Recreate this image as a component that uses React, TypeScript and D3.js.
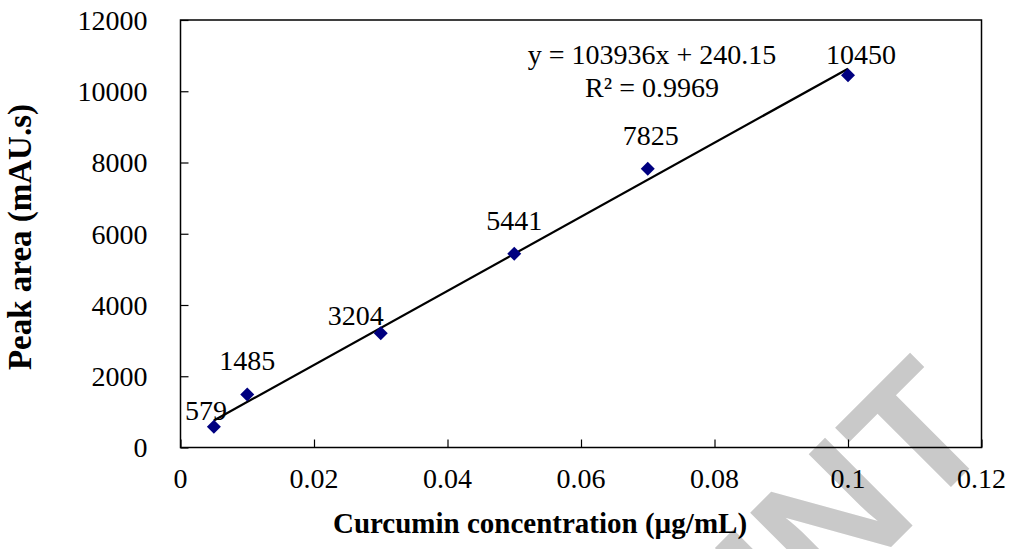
import React, { useEffect, useRef } from 'react';
import * as d3 from 'd3';

// concentration (µg/mL) and measured peak area (mAU.s)
const concentrations = [0.005, 0.01, 0.03, 0.05, 0.07, 0.1];
const peakAreas = [579, 1485, 3204, 5441, 7825, 10450];
const pointLabels = ['579', '1485', '3204', '5441', '7825', '10450'];

const xTicks = [0, 0.02, 0.04, 0.06, 0.08, 0.1, 0.12];
const yTicks = [0, 2000, 4000, 6000, 8000, 10000, 12000];

// linear trendline as printed on the chart
const slope = 103936;
const intercept = 240.15;
const equationText = 'y = 103936x + 240.15';
const rSquaredText = 'R² = 0.9969';

const WIDTH = 1010;
const HEIGHT = 549;

const App = () => {
  const svgRef = useRef<SVGSVGElement | null>(null);

  useEffect(() => {
    document.body.style.margin = '0';
    const svg = d3.select(svgRef.current);
    svg.selectAll('*').remove();

    const margin = { top: 20, right: 28.5, bottom: 101.5, left: 180.5 };
    const innerW = WIDTH - margin.left - margin.right;
    const innerH = HEIGHT - margin.top - margin.bottom;
    const serif = '"Liberation Serif", "Times New Roman", serif';

    // watermark sits under everything (runs off the page like the original)
    svg.append('text')
      .attr('transform', 'translate(999, 439) rotate(-45)')
      .attr('text-anchor', 'end')
      .attr('font-family', '"Liberation Sans", Arial, sans-serif')
      .attr('font-weight', 'bold')
      .attr('font-size', 180)
      .attr('fill', '#c9c9c9')
      .text('PRINT');

    const x = d3.scaleLinear().domain([0, 0.12]).range([0, innerW]);
    const y = d3.scaleLinear().domain([0, 12000]).range([innerH, 0]);

    const g = svg.append('g')
      .attr('transform', `translate(${margin.left},${margin.top})`);

    // plot frame
    g.append('rect')
      .attr('width', innerW)
      .attr('height', innerH)
      .attr('fill', 'none')
      .attr('stroke', '#000')
      .attr('stroke-width', 1.5);

    // y axis, ticks pointing inward
    const yAxis = g.append('g')
      .call(d3.axisRight(y).tickValues(yTicks).tickSize(8).tickFormat(() => ''));
    yAxis.select('.domain').remove();
    yAxis.selectAll('line').attr('stroke', '#000').attr('stroke-width', 1.2);

    g.selectAll('.ylab')
      .data(yTicks)
      .join('text')
      .attr('class', 'ylab')
      .attr('x', -33)
      .attr('y', (d) => y(d))
      .attr('dy', '0.35em')
      .attr('text-anchor', 'end')
      .attr('font-family', serif)
      .attr('font-size', 28)
      .text((d) => String(d));

    // x axis, ticks pointing up
    const xAxis = g.append('g')
      .attr('transform', `translate(0,${innerH})`)
      .call(d3.axisTop(x).tickValues(xTicks).tickSize(8).tickFormat(() => ''));
    xAxis.select('.domain').remove();
    xAxis.selectAll('line').attr('stroke', '#000').attr('stroke-width', 1.2);

    g.selectAll('.xlab')
      .data(xTicks)
      .join('text')
      .attr('class', 'xlab')
      .attr('x', (d) => x(d))
      .attr('y', innerH + 40)
      .attr('text-anchor', 'middle')
      .attr('font-family', serif)
      .attr('font-size', 28)
      .text((d) => String(d));

    // trendline over the measured range
    const xExtent = d3.extent(concentrations) as [number, number];
    g.append('path')
      .datum(xExtent)
      .attr('d', d3.line<number>()
        .x((d) => x(d))
        .y((d) => y(slope * d + intercept)))
      .attr('stroke', '#000')
      .attr('stroke-width', 2.2)
      .attr('fill', 'none');

    // diamond markers
    const diamond = d3.symbol().type(d3.symbolSquare).size(98);
    g.selectAll('.pt')
      .data(concentrations)
      .join('path')
      .attr('class', 'pt')
      .attr('d', diamond)
      .attr('transform', (d, i) => `translate(${x(d)},${y(peakAreas[i])}) rotate(45)`)
      .attr('fill', '#000080');

    // label nudges (Excel labels were dragged a bit by hand)
    const nudge: [number, number][] = [[-8, -7], [0, -25], [-25, -8], [0, -24], [3, -24], [13, -11]];
    g.selectAll('.plab')
      .data(concentrations)
      .join('text')
      .attr('class', 'plab')
      .attr('x', (d, i) => x(d) + nudge[i][0])
      .attr('y', (d, i) => y(peakAreas[i]) + nudge[i][1])
      .attr('text-anchor', 'middle')
      .attr('font-family', serif)
      .attr('font-size', 28)
      .text((d, i) => pointLabels[i]);

    // equation box
    g.append('text')
      .attr('x', 652 - margin.left)
      .attr('y', 64 - margin.top)
      .attr('text-anchor', 'middle')
      .attr('font-family', serif)
      .attr('font-size', 28)
      .text(equationText);
    g.append('text')
      .attr('x', 652 - margin.left)
      .attr('y', 97 - margin.top)
      .attr('text-anchor', 'middle')
      .attr('font-family', serif)
      .attr('font-size', 28)
      .text(rSquaredText);

    // axis titles
    svg.append('text')
      .attr('x', 540)
      .attr('y', 533)
      .attr('text-anchor', 'middle')
      .attr('font-family', serif)
      .attr('font-weight', 'bold')
      .attr('font-size', 29)
      .text('Curcumin concentration (µg/mL)');

    svg.append('text')
      .attr('transform', 'translate(31,237) rotate(-90)')
      .attr('text-anchor', 'middle')
      .attr('font-family', serif)
      .attr('font-weight', 'bold')
      .attr('font-size', 33)
      .text('Peak area (mAU.s)');
  }, []);

  return (
    <svg ref={svgRef} width={WIDTH} height={HEIGHT} style={{ display: 'block', background: '#fff' }} />
  );
};

export default App;
